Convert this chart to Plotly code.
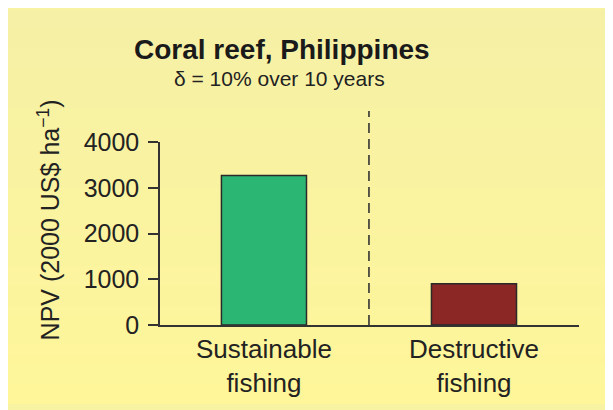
import plotly.graph_objects as go

categories = ["Sustainable<br>fishing", "Destructive<br>fishing"]
npv_values = [3270, 900]
bar_colors = ["#2bb673", "#8b2724"]
y_ticks = [0, 1000, 2000, 3000, 4000]
title_text = "<b>Coral reef, Philippines</b>"
subtitle_text = "δ = 10% over 10 years"
y_title = "NPV (2000 US$ ha<sup>−1</sup>)"

OFF = 8  # page body margin
W, H = 605, 402
L, T = 152, 134
pw, ph = 419, 189
R = W - L - pw
B = H - T - ph

def px_x(x):
    return (x - OFF - L) / pw

def px_y(y):
    return (T + ph - (y - OFF)) / ph

fig = go.Figure()
fig.add_trace(go.Bar(
    x=[0, 1], y=npv_values, width=0.405,
    marker=dict(color=bar_colors, line=dict(color="#2a2a2a", width=1.5)),
))

shapes = []
# gradient background
top = (245, 240, 166)
bot = (255, 246, 154)
n = 40
y_start, y_end = 6, 412
for i in range(n):
    t = i / (n - 1)
    c = tuple(round(top[k] + (bot[k] - top[k]) * t) for k in range(3))
    ya = y_start + (y_end - y_start) * i / n
    yb = y_start + (y_end - y_start) * (i + 1) / n
    shapes.append(dict(type="rect", xref="paper", yref="paper",
                       x0=px_x(0), x1=px_x(620), y0=px_y(yb + 0.5), y1=px_y(ya),
                       fillcolor="rgb(%d,%d,%d)" % c, line=dict(width=0),
                       layer="below"))
# dashed divider
shapes.append(dict(type="line", xref="x", yref="paper", x0=0.5, x1=0.5,
                   y0=0, y1=px_y(110),
                   line=dict(color="#333333", width=1.6, dash="10px,6px")))

font_family = "Liberation Sans, Arial, sans-serif"

fig.update_layout(
    width=W, height=H,
    margin=dict(l=L, r=R, t=T, b=B),
    paper_bgcolor="rgb(248,243,162)",
    plot_bgcolor="rgba(0,0,0,0)",
    showlegend=False,
    font=dict(family=font_family, color="#222222"),
    shapes=shapes,
    xaxis=dict(range=[-0.495, 1.5], tickvals=[0, 1], ticktext=categories,
               showgrid=False, zeroline=False, showline=True,
               linecolor="#333333", linewidth=1.5, ticks="",
               tickfont=dict(size=26, color="#222222"), fixedrange=True),
    yaxis=dict(range=[0, 4000], tickvals=y_ticks, showgrid=False,
               zeroline=False, showline=True, linecolor="#333333",
               linewidth=1.5, ticks="outside", ticklen=10, tickwidth=1.5,
               tickcolor="#333333", tickfont=dict(size=25, color="#222222"),
               ticklabelstandoff=4),
    annotations=[
        dict(text=title_text, xref="paper", yref="paper", x=px_x(281.5),
             y=px_y(28), xanchor="center", yanchor="top", showarrow=False,
             font=dict(size=28, color="#1a1a1a")),
        dict(text=subtitle_text, xref="paper", yref="paper", x=px_x(279),
             y=px_y(62), xanchor="center", yanchor="top", showarrow=False,
             font=dict(size=21, color="#222222")),
        dict(text=y_title, xref="paper", yref="paper", x=px_x(49),
             y=px_y(223), xanchor="center", yanchor="middle", textangle=-90,
             showarrow=False, font=dict(size=25, color="#222222")),
    ],
)

fig.write_html("out.html")
